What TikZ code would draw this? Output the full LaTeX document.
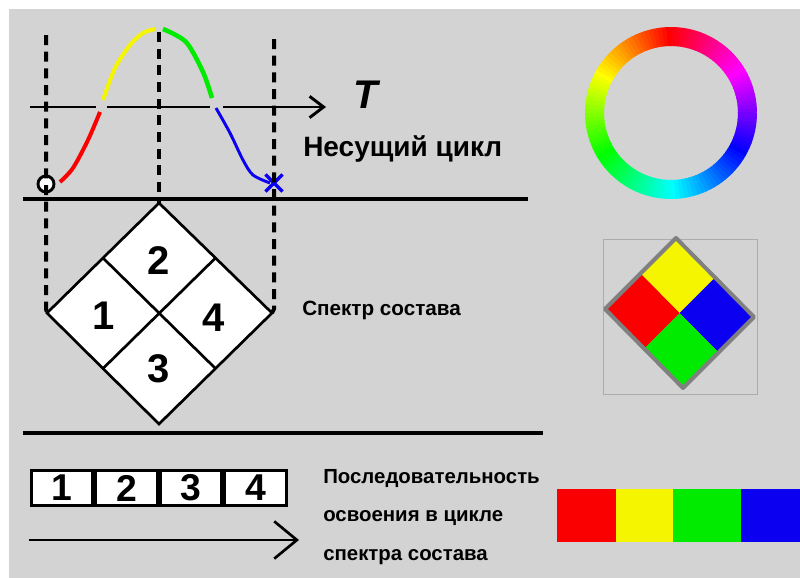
\documentclass[tikz,border=0pt]{standalone}
\usepackage{fontspec}
\setmainfont{Liberation Sans}
\usetikzlibrary{arrows.meta, positioning, calc, shapes.misc}

\definecolor{bggray}{RGB}{211,211,211}
\definecolor{sqred}{RGB}{250,0,0}
\definecolor{sqyellow}{RGB}{245,245,0}
\definecolor{sqgreen}{RGB}{0,235,0}
\definecolor{sqblue}{RGB}{12,0,240}
\definecolor{framegray}{RGB}{128,128,128}

\begin{document}
\begin{tikzpicture}[x=0.75pt, y=-0.75pt,
    >={Straight Barb[length=10.5pt, width=16pt]},
    rule/.style={line width=3pt},
    guide/.style={line width=3pt, dash pattern=on 7.5pt off 5pt},
    cellnum/.style={font=\fontsize{30}{30}\selectfont\bfseries},
    numbox/.style={draw, fill=white, line width=2.2pt, minimum width=46.2pt,
                   minimum height=26.3pt, inner sep=0pt,
                   font=\fontsize{28}{28}\selectfont\bfseries},
    note/.style={anchor=west, inner sep=0pt}]

  % Background
  \fill[white] (0,0) rectangle (800,578);
  \fill[bggray] (9,9) rectangle (800,578);
  \useasboundingbox (0,0) rectangle (800,578);

  % Axis T
  \coordinate (axl) at (30,107);
  \coordinate (ax1) at (96,107);
  \coordinate (ax2) at (107,107);
  \coordinate (ax3) at (210,107);
  \coordinate (ax4) at (223,107);
  \coordinate (axr) at (326,107);
  \draw[line width=2.2pt] (axl) -- (ax1);
  \draw[line width=2.2pt] (ax2) -- (ax3);
  \draw[line width=2.2pt, ->] (ax4) -- (axr);
  \node[font=\fontsize{30}{30}\selectfont\bfseries\itshape] (tlab) at (366,95) {T};

  % Carrier cycle curve
  \draw[sqred, line width=3pt] plot[smooth] coordinates
    {(60,182) (73,168) (88,140) (100,112)};
  \draw[sqyellow, line width=3pt] plot[smooth] coordinates
    {(103,100) (115,68) (130,45) (143,33) (155,29)};
  \draw[sqgreen, line width=3.4pt] plot[smooth] coordinates
    {(163,29) (186,42) (203,72) (212,98)};
  \draw[sqblue, line width=2.2pt] plot[smooth] coordinates
    {(216,108) (230,133) (243,160) (253,175) (270,183)};
  \node[circle, draw, fill=white, line width=2.2pt, minimum size=12pt,
        inner sep=0pt] (start) at (46,184) {};
  \node[cross out, draw=sqblue, line width=2.4pt, minimum size=10.5pt,
        inner sep=0pt] (finish) at (274,183) {};
  \node[note, font=\fontsize{21}{21}\selectfont\bfseries] (carrier) at (303,149)
    {Несущий цикл};

  % Dashed guides
  \coordinate (gl) at (46,35);
  \coordinate (gm) at (159,32);
  \coordinate (gr) at (274,39);
  \coordinate (dtop) at (159,203);
  \coordinate (dleft) at (47,313);
  \coordinate (dright) at (272,313);
  \coordinate (dbot) at (159,424);
  \draw[guide] (gl) -- ($(gl |- dleft)+(0,-4)$) -- (dleft);
  \draw[guide] (gm) -- (dtop);
  \draw[guide] (gr) -- ($(gr |- dright)+(0,-4)$) -- (dright);

  % Separators
  \draw[rule] (23,199) -- (528,199);
  \draw[rule] (23,433) -- (543,433);

  % Composition spectrum
  \draw[fill=white, line width=2pt] (dtop) -- (dright) -- (dbot) -- (dleft) -- cycle;
  \draw[line width=2pt] ($(dtop)!0.5!(dleft)$) -- ($(dright)!0.5!(dbot)$);
  \draw[line width=2pt] ($(dtop)!0.5!(dright)$) -- ($(dleft)!0.5!(dbot)$);
  \node[cellnum] (c2) at ($(dtop)!0.26!(dbot)$) {2};
  \node[cellnum] (c1) at ($(dleft)!0.25!(dright)+(0,3)$) {1};
  \node[cellnum] (c4) at ($(dleft)!0.74!(dright)+(0,5)$) {4};
  \node[cellnum] (c3) at ($(dtop)!0.75!(dbot)$) {3};
  \node[note, font=\fontsize{15.5}{15.5}\selectfont\bfseries] (spectrum) at (302,310)
    {Спектр состава};

  % Sequence
  \node[numbox] (b1) at (62,488) {1};
  \node[numbox, right=0pt of b1] (b2) {2};
  \node[numbox, right=0pt of b2] (b3) {3};
  \node[numbox, right=0pt of b3] (b4) {4};
  \coordinate (seqa) at (29,540);
  \coordinate (seqb) at (299,540);
  \draw[line width=2pt, -{Straight Barb[length=17pt, width=28pt]}] (seqa) -- (seqb);
  \node[note, align=left, font=\fontsize{15.3}{29}\selectfont\bfseries] (sequence) at (323,517)
    {Последовательность\\освоения в цикле\\спектра состава};

  % Colour ring
  \begin{scope}[shift={(671,113)}, yscale=-1]
    \foreach \a in {0,3,...,357} {
      \pgfmathsetmacro{\hue}{mod(\a+270,360)}
      \definecolor{ringc}{Hsb}{\hue,1,1}
      \draw[ringc, line width=14.25pt] (\a:76.5)
        arc[start angle=\a, end angle=\a+3.6, radius=76.5];
    }
  \end{scope}

  % Coloured spectrum
  \coordinate (qt) at (676,238);
  \coordinate (qr) at (754,317);
  \coordinate (qb) at (683,388);
  \coordinate (ql) at (605,309);
  \coordinate (qc) at (679.5,313);
  \draw[gray!65, line width=0.5pt] (603,239) rectangle (757,394);
  \fill[sqyellow] (qt) -- ($(qt)!0.5!(qr)$) -- (qc) -- ($(qt)!0.5!(ql)$) -- cycle;
  \fill[sqblue] ($(qt)!0.5!(qr)$) -- (qr) -- ($(qr)!0.5!(qb)$) -- (qc) -- cycle;
  \fill[sqgreen] (qc) -- ($(qr)!0.5!(qb)$) -- (qb) -- ($(qb)!0.5!(ql)$) -- cycle;
  \fill[sqred] ($(qt)!0.5!(ql)$) -- (qc) -- ($(qb)!0.5!(ql)$) -- (ql) -- cycle;
  \draw[framegray, line width=3pt, line join=round] (qt) -- (qr) -- (qb) -- (ql) -- cycle;

  % Colour sequence
  \foreach \c/\xa/\xb in {sqred/557/616, sqyellow/616/673, sqgreen/673/741, sqblue/741/800}
    \fill[\c] (\xa,489) rectangle (\xb,542);
\end{tikzpicture}
\end{document}
